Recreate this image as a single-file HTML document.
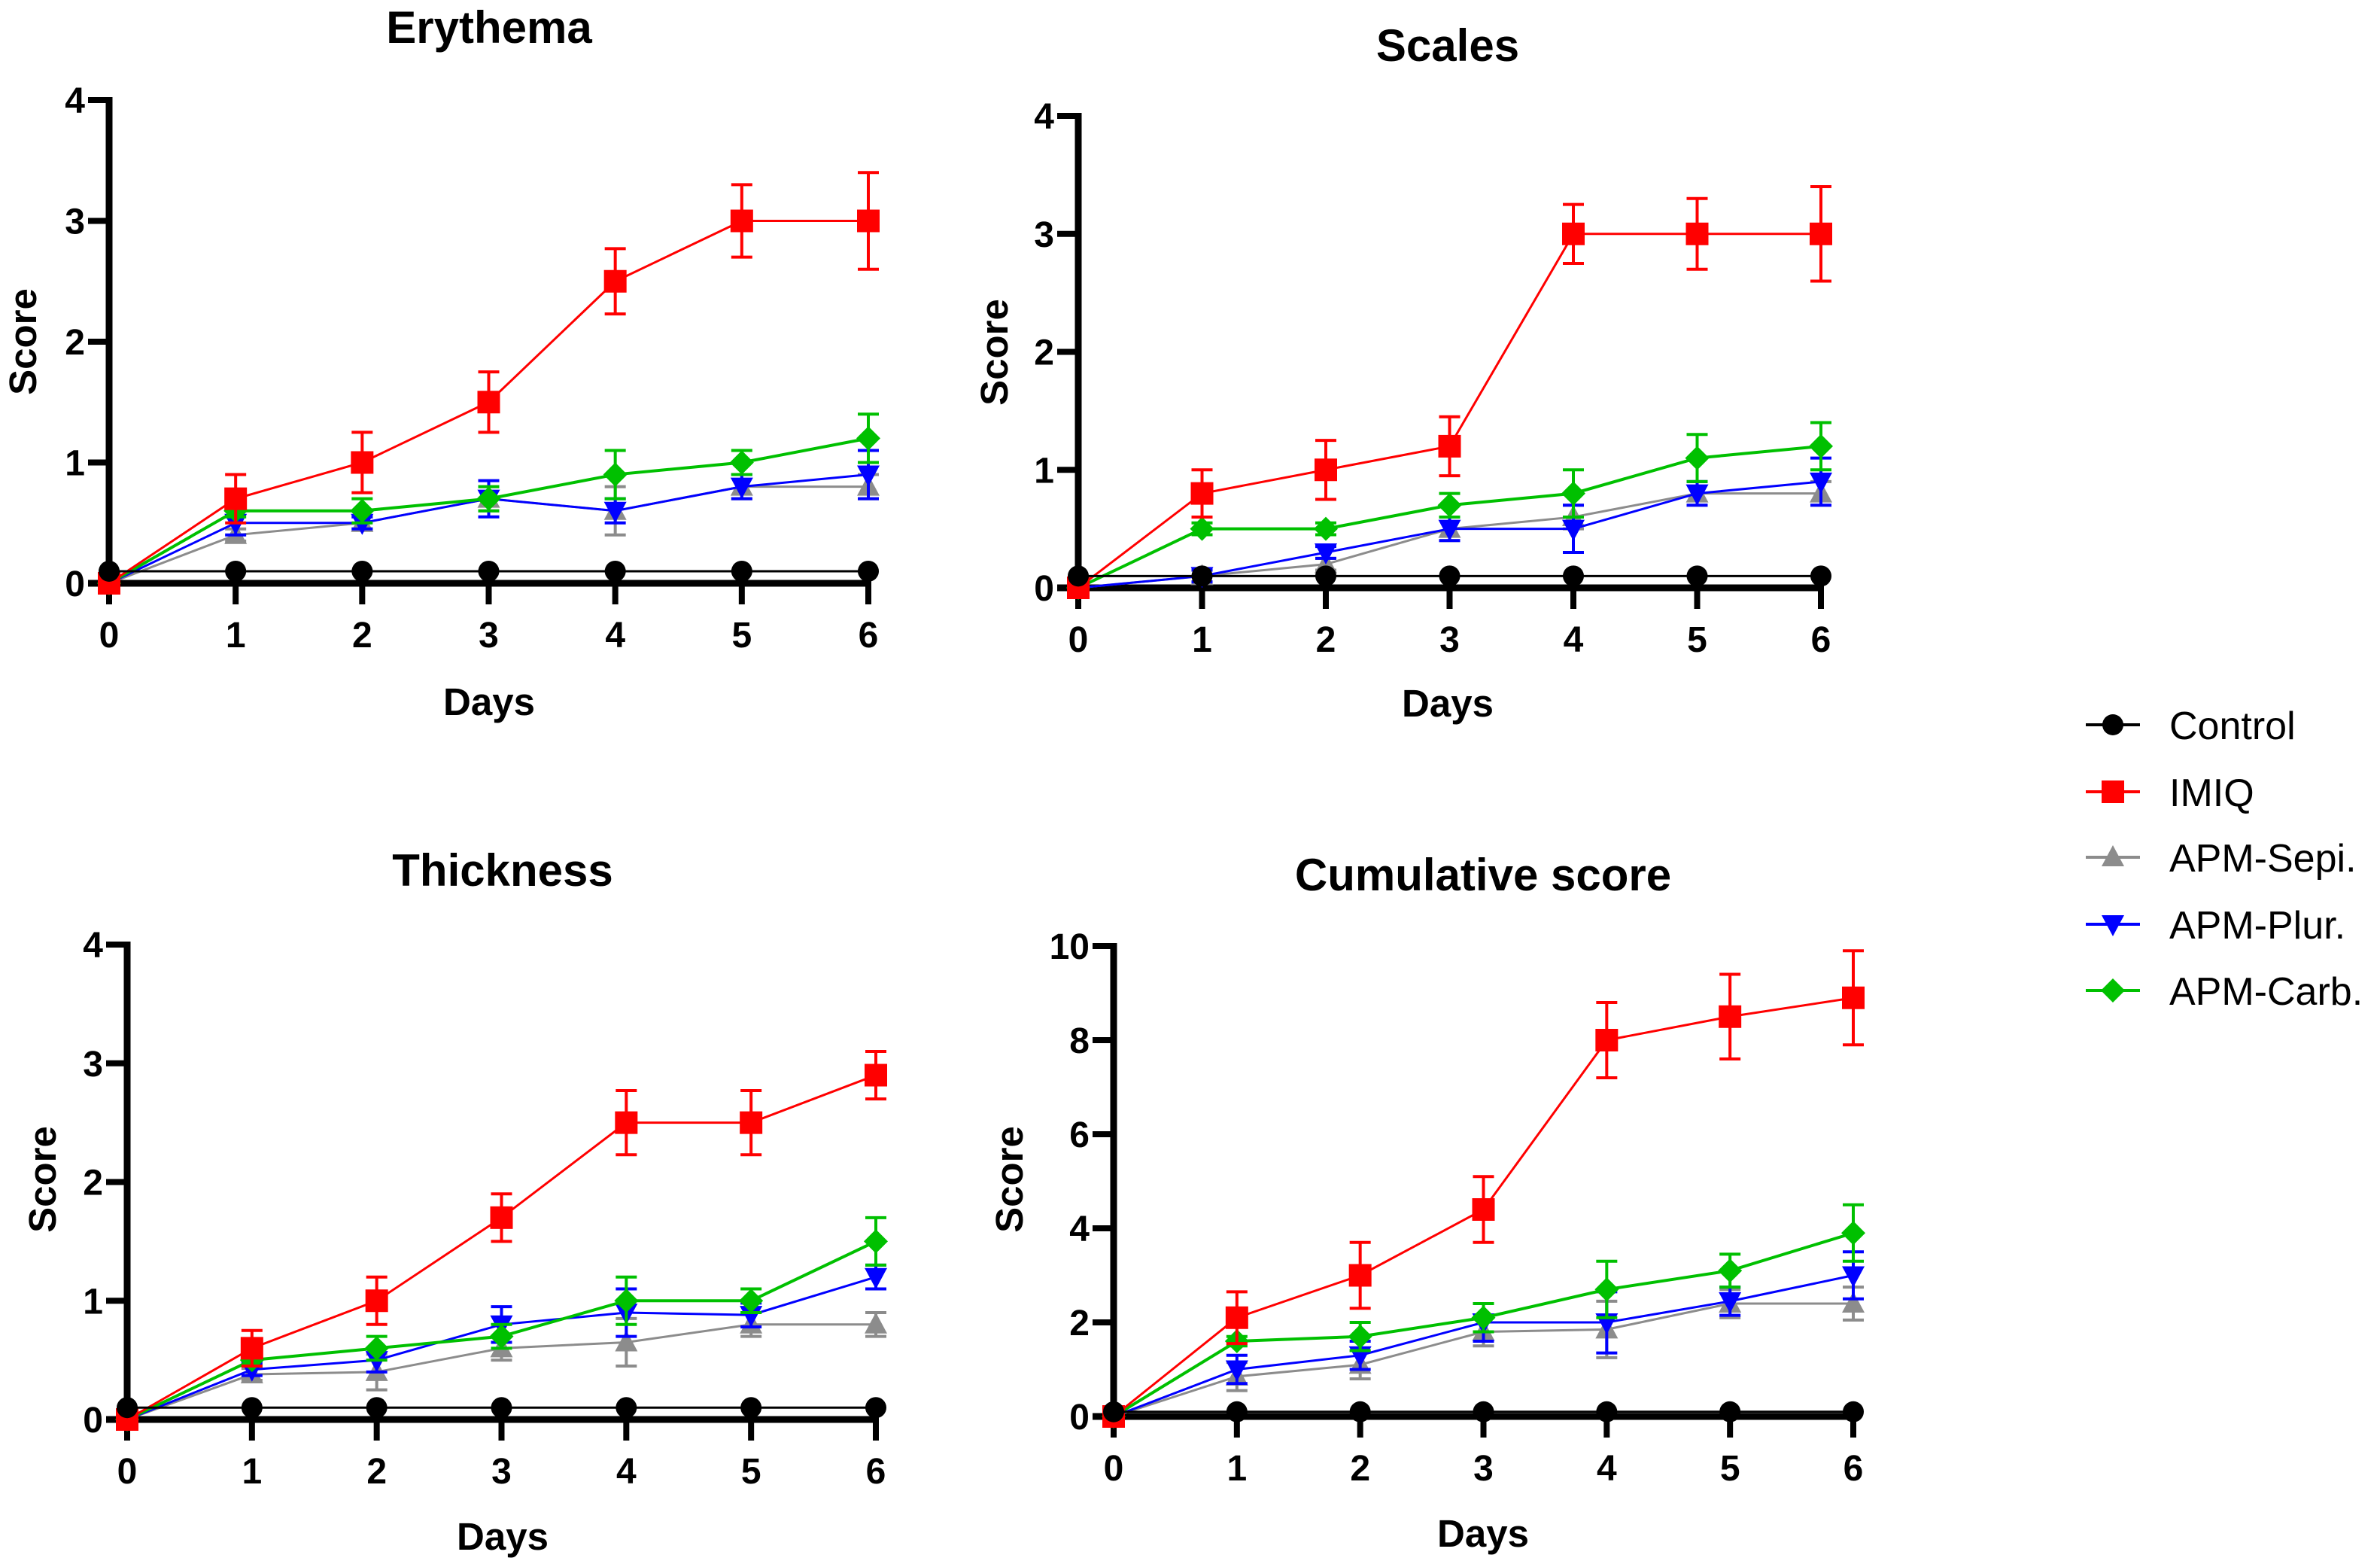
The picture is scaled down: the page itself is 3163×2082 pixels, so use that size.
<!DOCTYPE html>
<html><head><meta charset="utf-8">
<style>
html,body{margin:0;padding:0;background:#fff;}
svg{display:block;font-family:"Liberation Sans",Arial,sans-serif;}
</style></head>
<body>
<svg id="chart" width="3163" height="2082" viewBox="0 0 3163 2082" xmlns="http://www.w3.org/2000/svg"></svg>
<script>
const days = [0,1,2,3,4,5,6];
const seriesNames = ["Control","IMIQ","APM-Sepi.","APM-Plur.","APM-Carb."];
const panelTitles = ["Erythema","Scales","Thickness","Cumulative score"];

const eryControl = [0.1,0.1,0.1,0.1,0.1,0.1,0.1];
const eryIMIQ = [0,0.7,1,1.5,2.5,3,3];
const eryIMIQErr = [0,0.2,0.25,0.25,0.27,0.3,0.4];
const erySepi = [0,0.4,0.5,0.7,0.6,0.8,0.8];
const erySepiErr = [0,0.05,0.05,0.1,0.2,0.1,0.1];
const eryPlur = [0,0.5,0.5,0.7,0.6,0.8,0.9];
const eryPlurErr = [0,0.1,0.05,0.15,0.1,0.1,0.2];
const eryCarb = [0,0.6,0.6,0.7,0.9,1,1.2];
const eryCarbErr = [0,0.05,0.1,0.1,0.2,0.1,0.2];

const scaControl = [0.1,0.1,0.1,0.1,0.1,0.1,0.1];
const scaIMIQ = [0,0.8,1,1.2,3,3,3];
const scaIMIQErr = [0,0.2,0.25,0.25,0.25,0.3,0.4];
const scaSepi = [0,0.1,0.2,0.5,0.6,0.8,0.8];
const scaSepiErr = [0,0.05,0.05,0.1,0.1,0.1,0.1];
const scaPlur = [0,0.1,0.3,0.5,0.5,0.8,0.9];
const scaPlurErr = [0,0.05,0.05,0.1,0.2,0.1,0.2];
const scaCarb = [0,0.5,0.5,0.7,0.8,1.1,1.2];
const scaCarbErr = [0,0.05,0.05,0.1,0.2,0.2,0.2];

const thiControl = [0.1,0.1,0.1,0.1,0.1,0.1,0.1];
const thiIMIQ = [0,0.6,1,1.7,2.5,2.5,2.9];
const thiIMIQErr = [0,0.15,0.2,0.2,0.27,0.27,0.2];
const thiSepi = [0,0.38,0.4,0.6,0.65,0.8,0.8];
const thiSepiErr = [0,0.05,0.15,0.1,0.2,0.1,0.1];
const thiPlur = [0,0.42,0.5,0.8,0.9,0.88,1.2];
const thiPlurErr = [0,0.05,0.1,0.15,0.2,0.1,0.1];
const thiCarb = [0,0.5,0.6,0.7,1,1,1.5];
const thiCarbErr = [0,0.05,0.1,0.1,0.2,0.1,0.2];

const cumControl = [0.1,0.1,0.1,0.1,0.1,0.1,0.1];
const cumIMIQ = [0,2.1,3,4.4,8,8.5,8.9];
const cumIMIQErr = [0,0.55,0.7,0.7,0.8,0.9,1.0];
const cumSepi = [0,0.85,1.1,1.8,1.85,2.4,2.4];
const cumSepiErr = [0,0.3,0.3,0.3,0.6,0.3,0.35];
const cumPlur = [0,1.0,1.3,2.0,2.0,2.45,3.0];
const cumPlurErr = [0,0.3,0.3,0.4,0.65,0.3,0.5];
const cumCarb = [0,1.6,1.7,2.1,2.7,3.1,3.9];
const cumCarbErr = [0,0.1,0.3,0.3,0.6,0.35,0.6];

const ticks4 = [0,1,2,3,4];
const ticks10 = [0,2,4,6,8,10];

const NS = "http://www.w3.org/2000/svg";
const svg = document.getElementById("chart");
function mk(tag, attrs, parent){
  const e = document.createElementNS(NS, tag);
  for (const k in attrs) e.setAttribute(k, attrs[k]);
  (parent||svg).appendChild(e);
  return e;
}
const colors = ["#000000","#ff0000","#8c8c8c","#0000ff","#00c000"];
const lineW = [3,3,3,3,4];

function marker(g, type, cx, cy, color){
  let m;
  if (type===0) m = mk("circle",{cx:cx,cy:cy,r:14,fill:color},g);
  else if (type===1) m = mk("rect",{x:cx-15,y:cy-15,width:30,height:30,fill:color},g);
  else if (type===2) m = mk("polygon",{points:`${cx},${cy-16} ${cx+15},${cy+12} ${cx-15},${cy+12}`,fill:color},g);
  else if (type===3) m = mk("polygon",{points:`${cx-15},${cy-12} ${cx+15},${cy-12} ${cx},${cy+16}`,fill:color},g);
  else m = mk("polygon",{points:`${cx},${cy-16} ${cx+16},${cy} ${cx},${cy+16} ${cx-16},${cy}`,fill:color},g);
  return m;
}

const panels = [
  {name:"erythema", ax:145, y0:775, yT:133, x6:1154, ymax:4, ticks:ticks4, title:[650,36], days:[650,932], score:[30,454],
   data:[eryControl,eryIMIQ,erySepi,eryPlur,eryCarb], err:[null,eryIMIQErr,erySepiErr,eryPlurErr,eryCarbErr]},
  {name:"scales", ax:1433, y0:781, yT:154, x6:2420, ymax:4, ticks:ticks4, title:[1924,60], days:[1924,934], score:[1321,468],
   data:[scaControl,scaIMIQ,scaSepi,scaPlur,scaCarb], err:[null,scaIMIQErr,scaSepiErr,scaPlurErr,scaCarbErr]},
  {name:"thickness", ax:169, y0:1886, yT:1255, x6:1164, ymax:4, ticks:ticks4, title:[668,1156], days:[668,2041], score:[56,1567],
   data:[thiControl,thiIMIQ,thiSepi,thiPlur,thiCarb], err:[null,thiIMIQErr,thiSepiErr,thiPlurErr,thiCarbErr]},
  {name:"cumulative", ax:1480, y0:1882, yT:1257, x6:2463, ymax:10, ticks:ticks10, title:[1971,1162], days:[1971,2037], score:[1341,1567],
   data:[cumControl,cumIMIQ,cumSepi,cumPlur,cumCarb], err:[null,cumIMIQErr,cumSepiErr,cumPlurErr,cumCarbErr]}
];

panels.forEach((p, pi) => {
  const g = mk("g",{});
  
  
  const xs = d => p.ax + (p.x6 - p.ax) * d / 6;
  const ys = v => p.y0 - (p.y0 - p.yT) * v / p.ymax;

  const t = mk("text",{x:p.title[0],y:p.title[1]+21,"text-anchor":"middle","font-size":60,"font-weight":"bold"},g);
  t.textContent = panelTitles[pi];
  
  

  const dl = mk("text",{x:p.days[0],y:p.days[1]+18,"text-anchor":"middle","font-size":51,"font-weight":"bold"},g);
  dl.textContent = "Days";
  
  

  const sl = mk("text",{x:0,y:0,"text-anchor":"middle","font-size":51,"font-weight":"bold",transform:`translate(${p.score[0]+18},${p.score[1]}) rotate(-90)`},g);
  sl.textContent = "Score";
  
  

  const ya = mk("line",{x1:p.ax,y1:p.yT-4,x2:p.ax,y2:p.y0+4,stroke:"#000","stroke-width":9},g);
  
  
  p.ticks.forEach(tv => {
    mk("line",{x1:p.ax-28,y1:ys(tv),x2:p.ax,y2:ys(tv),stroke:"#000","stroke-width":8},g);
    const tl = mk("text",{x:p.ax-32,y:ys(tv)+17,"text-anchor":"end","font-size":48,"font-weight":"bold"},g);
    tl.textContent = tv;
    
    
  });
  const xa = mk("line",{x1:p.ax-28,y1:p.y0,x2:p.x6+4,y2:p.y0,stroke:"#000","stroke-width":9},g);
  
  
  days.forEach(d => {
    mk("line",{x1:xs(d),y1:p.y0,x2:xs(d),y2:p.y0+28,stroke:"#000","stroke-width":8},g);
    const tl = mk("text",{x:xs(d),y:p.y0+85,"text-anchor":"middle","font-size":48,"font-weight":"bold"},g);
    tl.textContent = d;
    
    
  });

  const order = [2,3,4,1,0];
  order.forEach(si => {
    const sg = mk("g",{},g);
    
    
    const vals = p.data[si], errs = p.err[si];
    const pts = days.map((d,i) => xs(d)+","+ys(vals[i])).join(" ");
    mk("polyline",{points:pts,fill:"none",stroke:colors[si],"stroke-width":lineW[si]},sg);
    if (errs) days.forEach((d,i) => {
      if (errs[i] <= 0) return;
      const x = xs(d), yt = ys(vals[i]+errs[i]), yb = ys(vals[i]-errs[i]);
      mk("line",{x1:x,y1:yt,x2:x,y2:yb,stroke:colors[si],"stroke-width":4},sg);
      mk("line",{x1:x-14,y1:yt,x2:x+14,y2:yt,stroke:colors[si],"stroke-width":4},sg);
      mk("line",{x1:x-14,y1:yb,x2:x+14,y2:yb,stroke:colors[si],"stroke-width":4},sg);
    });
    days.forEach((d,i) => {
      const m = marker(sg, si, xs(d), ys(vals[i]), colors[si]);
      
      
    });
  });
});

const legY = [963,1052,1139,1228,1316];
const lg = mk("g",{});


seriesNames.forEach((n, i) => {
  const eg = mk("g",{},lg);
  
  
  mk("line",{x1:2772,y1:legY[i],x2:2844,y2:legY[i],stroke:colors[i],"stroke-width":4},eg);
  marker(eg, i, 2808, legY[i], colors[i]);
  const tx = mk("text",{x:2883,y:legY[i]+19,"font-size":52},eg);
  tx.textContent = n;
});
</script>
</body></html>
